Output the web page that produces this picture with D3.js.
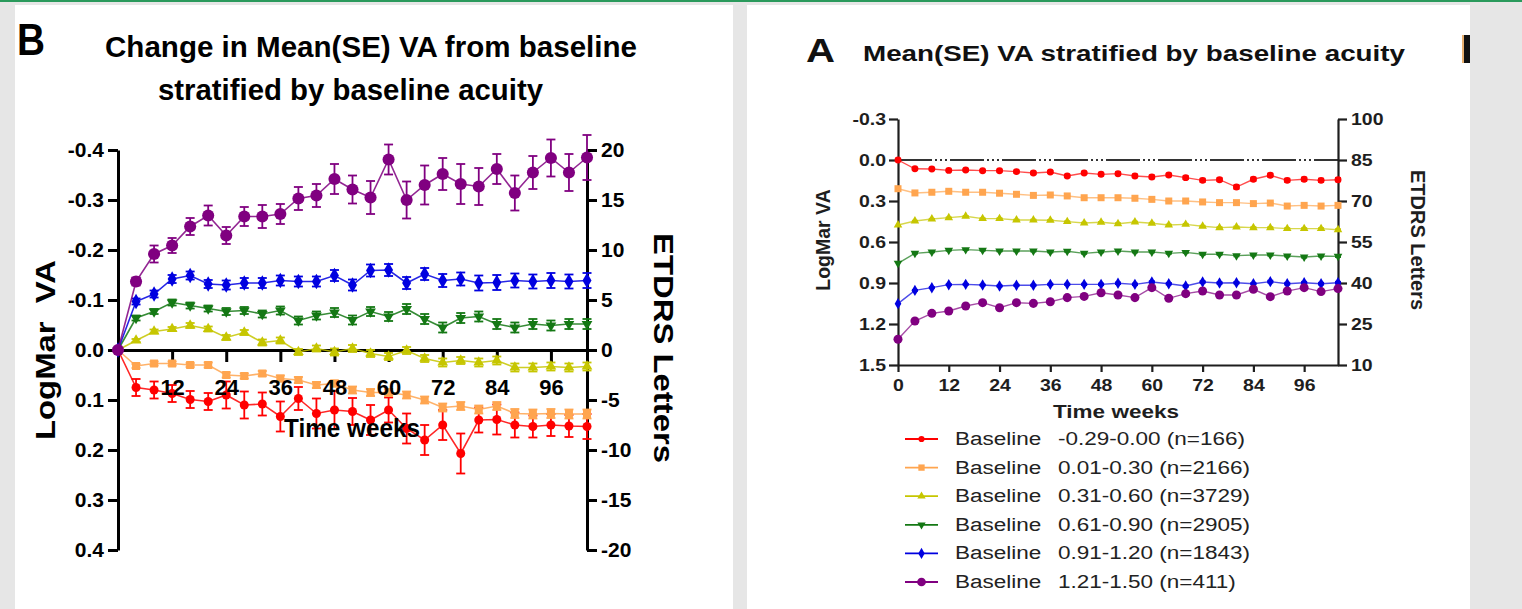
<!DOCTYPE html>
<html>
<head>
<meta charset="utf-8">
<script src="https://cdn.jsdelivr.net/npm/d3@7"></script>
<style>
  body { margin: 0; background: #e6e6e6; }
  text { font-family: "Liberation Sans", Arial, sans-serif; }
</style>
</head>
<body>
<svg id="fig" width="1522" height="609"></svg>
<script>
// visit weeks (same for both panels)
const weeks = [0, 4, 8, 12, 16, 20, 24, 28, 32, 36, 40, 44, 48, 52, 56, 60, 64, 68, 72, 76, 80, 84, 88, 92, 96, 100, 104];

// panel B: change in LogMar from baseline
const bRed    = [0, 0.075, 0.080, 0.087, 0.099, 0.103, 0.090, 0.110, 0.108, 0.133, 0.097, 0.127, 0.120, 0.123, 0.140, 0.120, 0.157, 0.180, 0.150, 0.207, 0.140, 0.139, 0.150, 0.153, 0.150, 0.152, 0.153];
const bOrange = [0, 0.032, 0.027, 0.027, 0.030, 0.030, 0.050, 0.052, 0.047, 0.057, 0.060, 0.070, 0.067, 0.080, 0.085, 0.085, 0.090, 0.100, 0.115, 0.112, 0.119, 0.112, 0.127, 0.128, 0.127, 0.128, 0.128];
const bYellow = [0, -0.019, -0.037, -0.042, -0.049, -0.042, -0.025, -0.035, -0.015, -0.019, 0.004, -0.003, 0.004, -0.003, 0.007, 0.013, 0.001, 0.017, 0.025, 0.021, 0.025, 0.021, 0.035, 0.035, 0.033, 0.035, 0.033];
const bGreen  = [0, -0.064, -0.077, -0.095, -0.089, -0.083, -0.077, -0.079, -0.072, -0.079, -0.059, -0.069, -0.075, -0.060, -0.077, -0.067, -0.082, -0.062, -0.045, -0.064, -0.067, -0.052, -0.045, -0.052, -0.049, -0.052, -0.052];
const bBlue   = [0, -0.097, -0.112, -0.142, -0.149, -0.132, -0.130, -0.134, -0.134, -0.139, -0.137, -0.137, -0.149, -0.130, -0.159, -0.160, -0.134, -0.152, -0.139, -0.142, -0.134, -0.135, -0.139, -0.137, -0.139, -0.137, -0.139];
const bPurple = [0, -0.137, -0.192, -0.209, -0.247, -0.269, -0.229, -0.267, -0.267, -0.272, -0.303, -0.309, -0.342, -0.321, -0.305, -0.381, -0.300, -0.330, -0.352, -0.332, -0.327, -0.362, -0.314, -0.355, -0.384, -0.355, -0.385];

const bSeRed    = [0, 0.017, 0.017, 0.017, 0.017, 0.017, 0.027, 0.027, 0.023, 0.030, 0.023, 0.030, 0.038, 0.027, 0.030, 0.025, 0.030, 0.030, 0.030, 0.040, 0.025, 0.030, 0.025, 0.022, 0.022, 0.022, 0.025];
const bSeOrange = [0, 0.004, 0.004, 0.004, 0.004, 0.005, 0.005, 0.005, 0.005, 0.006, 0.006, 0.006, 0.006, 0.007, 0.007, 0.007, 0.007, 0.007, 0.008, 0.008, 0.008, 0.008, 0.009, 0.009, 0.009, 0.009, 0.009];
const bSeYellow = [0, 0.003, 0.004, 0.004, 0.005, 0.005, 0.005, 0.005, 0.006, 0.006, 0.006, 0.006, 0.007, 0.007, 0.007, 0.007, 0.007, 0.007, 0.008, 0.007, 0.008, 0.008, 0.008, 0.008, 0.008, 0.008, 0.008];
const bSeGreen  = [0, 0.005, 0.005, 0.006, 0.006, 0.006, 0.007, 0.007, 0.007, 0.008, 0.008, 0.008, 0.009, 0.009, 0.009, 0.009, 0.010, 0.010, 0.010, 0.010, 0.010, 0.010, 0.010, 0.010, 0.010, 0.010, 0.010];
const bSeBlue   = [0, 0.006, 0.007, 0.008, 0.008, 0.008, 0.009, 0.010, 0.010, 0.010, 0.010, 0.010, 0.011, 0.011, 0.012, 0.012, 0.012, 0.012, 0.013, 0.013, 0.015, 0.015, 0.014, 0.014, 0.015, 0.014, 0.015];
const bSePurple = [0, 0.008, 0.017, 0.015, 0.017, 0.020, 0.017, 0.019, 0.023, 0.020, 0.023, 0.023, 0.030, 0.028, 0.033, 0.030, 0.037, 0.039, 0.032, 0.040, 0.037, 0.030, 0.035, 0.033, 0.037, 0.037, 0.045];

// panel A: mean LogMar
const aRed    = [0.000, 0.064, 0.066, 0.076, 0.073, 0.078, 0.078, 0.085, 0.095, 0.088, 0.117, 0.095, 0.105, 0.100, 0.117, 0.124, 0.110, 0.129, 0.149, 0.144, 0.198, 0.141, 0.112, 0.149, 0.141, 0.149, 0.144];
const aOrange = [0.210, 0.241, 0.236, 0.229, 0.236, 0.236, 0.243, 0.251, 0.259, 0.256, 0.263, 0.276, 0.276, 0.276, 0.280, 0.288, 0.300, 0.300, 0.307, 0.312, 0.312, 0.319, 0.315, 0.337, 0.332, 0.337, 0.332];
const aYellow = [0.476, 0.446, 0.432, 0.422, 0.412, 0.429, 0.429, 0.439, 0.439, 0.441, 0.451, 0.461, 0.456, 0.466, 0.454, 0.463, 0.476, 0.471, 0.485, 0.495, 0.490, 0.495, 0.495, 0.502, 0.502, 0.502, 0.510];
const aGreen  = [0.756, 0.683, 0.673, 0.661, 0.656, 0.661, 0.666, 0.666, 0.666, 0.673, 0.668, 0.683, 0.673, 0.666, 0.673, 0.673, 0.683, 0.676, 0.690, 0.690, 0.700, 0.695, 0.695, 0.702, 0.710, 0.702, 0.705];
const aBlue   = [1.051, 0.954, 0.934, 0.912, 0.910, 0.915, 0.922, 0.917, 0.917, 0.910, 0.910, 0.910, 0.910, 0.902, 0.910, 0.893, 0.905, 0.922, 0.893, 0.900, 0.898, 0.905, 0.890, 0.905, 0.898, 0.905, 0.898];
const aPurple = [1.312, 1.178, 1.122, 1.105, 1.068, 1.044, 1.081, 1.044, 1.049, 1.037, 1.007, 0.998, 0.971, 0.988, 1.007, 0.934, 1.012, 0.978, 0.959, 0.988, 0.988, 0.946, 1.000, 0.959, 0.934, 0.963, 0.941];

const aSeRed    = [0, 0.006, 0.006, 0.006, 0.006, 0.006, 0.007, 0.008, 0.009, 0.008, 0.009, 0.009, 0.010, 0.010, 0.010, 0.011, 0.010, 0.011, 0.012, 0.011, 0.013, 0.012, 0.012, 0.012, 0.012, 0.012, 0.012];
const aSeOrange = [0, 0.003, 0.003, 0.003, 0.003, 0.003, 0.003, 0.004, 0.004, 0.004, 0.004, 0.004, 0.004, 0.004, 0.004, 0.005, 0.004, 0.005, 0.005, 0.005, 0.005, 0.005, 0.005, 0.005, 0.005, 0.005, 0.005];
const aSeYellow = [0, 0.002, 0.002, 0.002, 0.003, 0.003, 0.003, 0.003, 0.003, 0.003, 0.003, 0.003, 0.003, 0.004, 0.004, 0.004, 0.004, 0.004, 0.004, 0.004, 0.004, 0.004, 0.004, 0.004, 0.004, 0.004, 0.004];
const aSeGreen  = [0, 0.003, 0.003, 0.003, 0.003, 0.003, 0.003, 0.003, 0.004, 0.004, 0.004, 0.004, 0.004, 0.004, 0.004, 0.004, 0.004, 0.004, 0.005, 0.004, 0.005, 0.005, 0.005, 0.005, 0.005, 0.005, 0.005];
const aSeBlue   = [0, 0.004, 0.004, 0.004, 0.004, 0.004, 0.005, 0.005, 0.005, 0.005, 0.005, 0.005, 0.006, 0.006, 0.006, 0.006, 0.006, 0.006, 0.006, 0.006, 0.006, 0.006, 0.007, 0.007, 0.007, 0.007, 0.007];
const aSePurple = [0, 0.006, 0.007, 0.008, 0.008, 0.008, 0.009, 0.009, 0.009, 0.010, 0.010, 0.011, 0.013, 0.012, 0.013, 0.012, 0.013, 0.013, 0.012, 0.013, 0.013, 0.012, 0.013, 0.013, 0.013, 0.013, 0.014];

// legend
const groupRanges = ["-0.29-0.00 (n=166)", "0.01-0.30 (n=2166)", "0.31-0.60 (n=3729)", "0.61-0.90 (n=2905)", "0.91-1.20 (n=1843)", "1.21-1.50 (n=411)"];
const colors = ["#ff0000", "#ffa54f", "#c6c600", "#147814", "#0000e0", "#800080"];

// tick labels
const bLeftTicks  = [-0.4, -0.3, -0.2, -0.1, 0.0, 0.1, 0.2, 0.3, 0.4];
const bRightTicks = [20, 15, 10, 5, 0, -5, -10, -15, -20];
const bWeekTicks  = [12, 24, 36, 48, 60, 72, 84, 96];
const aLeftTicks  = [-0.3, 0.0, 0.3, 0.6, 0.9, 1.2, 1.5];
const aRightTicks = [100, 85, 70, 55, 40, 25, 10];
const aWeekTicks  = [0, 12, 24, 36, 48, 60, 72, 84, 96];

const svg = d3.select("#fig");

// page background and panels
svg.append("rect").attr("width", 1522).attr("height", 609).attr("fill", "#e6e6e6");
svg.append("rect").attr("width", 1522).attr("height", 2).attr("fill", "#2a9a5c");
svg.append("rect").attr("x", 15).attr("y", 5).attr("width", 718).attr("height", 604).attr("fill", "#fff");
svg.append("rect").attr("x", 747).attr("y", 5).attr("width", 723).attr("height", 604).attr("fill", "#fff");

// widen text horizontally by factor k (the figure is a stretched raster)
function stretch(sel, k) {
  sel.each(function() {
    const L = this.getComputedTextLength();
    d3.select(this).attr("textLength", L * k).attr("lengthAdjust", "spacingAndGlyphs");
  });
}
function fitTo(sel, len) {
  sel.attr("textLength", len).attr("lengthAdjust", "spacingAndGlyphs");
}

const fmt1 = d => d.toFixed(1);

function symbolPath(shape, size) {
  if (shape === "down") return d3.symbol(d3.symbolTriangle, size)();
  return d3.symbol(shape, size)();
}

function drawSeries(g, x, y, means, ses, color, shape, size, capW, lineW, lineOpacity) {
  const pts = weeks.map((w, i) => ({w, m: means[i], se: ses[i]}));
  const line = d3.line().x(d => x(d.w)).y(d => y(d.m));
  g.append("path").datum(pts)
    .attr("d", line)
    .attr("fill", "none")
    .attr("stroke", color)
    .attr("stroke-width", lineW)
    .attr("stroke-opacity", lineOpacity);
  const eb = g.append("g").attr("stroke", color).attr("stroke-width", 1.8);
  pts.filter(d => d.se > 0).forEach(d => {
    const x0 = x(d.w), y1 = y(d.m - d.se), y2 = y(d.m + d.se);
    eb.append("line").attr("x1", x0).attr("x2", x0).attr("y1", y1).attr("y2", y2);
    eb.append("line").attr("x1", x0 - capW / 2).attr("x2", x0 + capW / 2).attr("y1", y1).attr("y2", y1);
    eb.append("line").attr("x1", x0 - capW / 2).attr("x2", x0 + capW / 2).attr("y1", y2).attr("y2", y2);
  });
  g.append("g").selectAll("path").data(pts).join("path")
    .attr("d", symbolPath(shape, size))
    .attr("transform", d => `translate(${x(d.w)},${y(d.m)})` + (shape === "down" ? " rotate(180)" : ""))
    .attr("fill", color);
}

function styleAxis(g, width, color, fontSize) {
  g.select(".domain").attr("stroke", color).attr("stroke-width", width);
  g.selectAll(".tick line").attr("stroke", color).attr("stroke-width", width);
  g.selectAll(".tick text").attr("fill", color).attr("font-size", fontSize)
    .attr("font-weight", "bold").attr("font-family", "Liberation Sans, Arial, sans-serif");
}

// ---------------- Panel B ----------------
{
  const x = d3.scaleLinear().domain([0, 104]).range([118, 587]);
  const y = d3.scaleLinear().domain([-0.4, 0.4]).range([150, 550]);
  const yR = d3.scaleLinear().domain([20, -20]).range([150, 550]);
  const g = svg.append("g");

  const gl = g.append("g").attr("transform", "translate(118,0)")
    .call(d3.axisLeft(y).tickValues(bLeftTicks).tickFormat(fmt1).tickSize(10).tickSizeOuter(0).tickPadding(4));
  styleAxis(gl, 3, "#000", 21);
  const gr = g.append("g").attr("transform", "translate(587,0)")
    .call(d3.axisRight(yR).tickValues(bRightTicks).tickFormat(d => String(d)).tickSize(10).tickSizeOuter(0).tickPadding(4));
  styleAxis(gr, 3, "#000", 21);
  const gx = g.append("g").attr("transform", `translate(0,${y(0)})`)
    .call(d3.axisBottom(x).tickValues(bWeekTicks).tickSize(12).tickSizeOuter(0).tickPadding(17));
  styleAxis(gx, 3, "#000", 22);
  gx.selectAll(".tick text").remove();

  const bMeans = [bRed, bOrange, bYellow, bGreen, bBlue, bPurple];
  const bSes = [bSeRed, bSeOrange, bSeYellow, bSeGreen, bSeBlue, bSePurple];
  const bShapes = [d3.symbolCircle, d3.symbolSquare, d3.symbolTriangle, "down", d3.symbolDiamond, d3.symbolCircle];
  const bSizes = [64, 64, 50, 50, 70, 115];
  const sg = g.append("g");
  bMeans.forEach((m, i) => drawSeries(sg, x, y, m, bSes[i], colors[i], bShapes[i], bSizes[i], 9, 1.6, 0.85));

  // week labels sit on top of the marks
  const gxl = g.append("g").attr("transform", `translate(0,${y(0)})`)
    .call(d3.axisBottom(x).tickValues(bWeekTicks).tickSize(12).tickSizeOuter(0).tickPadding(17));
  styleAxis(gxl, 3, "#000", 22);
  gxl.select(".domain").remove();
  gxl.selectAll(".tick line").remove();

  g.append("text").attr("x", 17).attr("y", 55).attr("font-size", 44).attr("font-weight", "bold").text("B")
    .call(fitTo, 28);
  g.append("text").attr("x", 105).attr("y", 57).attr("font-size", 29).attr("font-weight", "bold")
    .text("Change in Mean(SE) VA from baseline").call(fitTo, 532);
  g.append("text").attr("x", 158).attr("y", 100).attr("font-size", 29).attr("font-weight", "bold")
    .text("stratified by baseline acuity").call(fitTo, 385);
  g.append("text").attr("x", 284).attr("y", 437).attr("font-size", 26).attr("font-weight", "bold")
    .text("Time weeks").call(fitTo, 136);
  g.append("text").attr("transform", "translate(45,350) rotate(-90)")
    .attr("text-anchor", "middle").attr("dominant-baseline", "central")
    .attr("font-size", 28).attr("font-weight", "bold").attr("xml:space", "preserve")
    .text("LogMar  VA").call(fitTo, 180);
  g.append("text").attr("transform", "translate(663,348) rotate(90)")
    .attr("text-anchor", "middle").attr("dominant-baseline", "central")
    .attr("font-size", 28).attr("font-weight", "bold")
    .text("ETDRS Letters").call(fitTo, 230);
}

// ---------------- Panel A ----------------
{
  const sx = 1.25;
  const x = d3.scaleLinear().domain([0, 104]).range([898, 1338]);
  const y = d3.scaleLinear().domain([-0.3, 1.5]).range([119, 365]);
  const yR = d3.scaleLinear().domain([100, 10]).range([119, 365]);
  const ink = "#1e1e1e";
  const g = svg.append("g");

  // reference line at LogMar 0
  g.append("line").attr("x1", x(0)).attr("x2", x(104)).attr("y1", y(0)).attr("y2", y(0))
    .attr("stroke", "#333").attr("stroke-width", 2)
    .attr("stroke-dasharray", "34,3,2,3,2,3,2,3");

  const gl = g.append("g").attr("transform", "translate(898,0)")
    .call(d3.axisLeft(y).tickValues(aLeftTicks).tickFormat(fmt1).tickSize(9).tickSizeOuter(0).tickPadding(3));
  styleAxis(gl, 2.2, ink, 16.5);
  const gr = g.append("g").attr("transform", "translate(1338,0)")
    .call(d3.axisRight(yR).tickValues(aRightTicks).tickFormat(d => String(d)).tickSize(9).tickSizeOuter(0).tickPadding(4));
  styleAxis(gr, 2.2, ink, 16.5);
  const gx = g.append("g").attr("transform", "translate(0,365)")
    .call(d3.axisBottom(x).tickValues(aWeekTicks).tickSize(7).tickSizeOuter(0).tickPadding(7));
  styleAxis(gx, 2.2, ink, 16.5);
  [gl, gr, gx].forEach(a => a.selectAll(".tick text").call(stretch, 1.18));

  const aMeans = [aRed, aOrange, aYellow, aGreen, aBlue, aPurple];
  const aSes = [aSeRed, aSeOrange, aSeYellow, aSeGreen, aSeBlue, aSePurple];
  const aShapes = [d3.symbolCircle, d3.symbolSquare, d3.symbolTriangle, "down", d3.symbolDiamond, d3.symbolCircle];
  const aSizes = [38, 49, 32, 32, 38, 64];
  const sg = g.append("g");
  aMeans.forEach((m, i) => drawSeries(sg, x, y, m, aSes[i], colors[i], aShapes[i], aSizes[i], 6, 1.4, 0.7));

  g.append("text").attr("x", 806).attr("y", 62).attr("font-size", 33).attr("font-weight", "bold")
    .attr("fill", "#111").text("A").call(fitTo, 29);
  g.append("text").attr("x", 863).attr("y", 61).attr("font-size", 22).attr("font-weight", "bold")
    .attr("fill", "#111").text("Mean(SE) VA stratified by baseline acuity").call(fitTo, 542);
  g.append("text").attr("x", 1116).attr("y", 418).attr("text-anchor", "middle")
    .attr("font-size", 18).attr("font-weight", "bold").attr("fill", ink)
    .text("Time weeks").call(stretch, sx);
  g.append("text").attr("transform", "translate(823,240) rotate(-90)")
    .attr("text-anchor", "middle").attr("dominant-baseline", "central")
    .attr("font-size", 19.5).attr("font-weight", "bold").attr("fill", ink)
    .text("LogMar VA");
  g.append("text").attr("transform", "translate(1418,240) rotate(90)")
    .attr("text-anchor", "middle").attr("dominant-baseline", "central")
    .attr("font-size", 20).attr("font-weight", "bold").attr("fill", ink)
    .text("ETDRS Letters");

  // legend
  const legY = d3.scalePoint().domain(groupRanges).range([439, 582]);
  const legSizes = [30, 40, 30, 30, 36, 60];
  const leg = g.append("g");
  groupRanges.forEach((label, i) => {
    const ly = legY(label);
    leg.append("line").attr("x1", 905).attr("x2", 938).attr("y1", ly).attr("y2", ly)
      .attr("stroke", colors[i]).attr("stroke-width", 1.8);
    leg.append("path").attr("d", symbolPath(aShapes[i], legSizes[i]))
      .attr("transform", `translate(921.5,${ly})` + (aShapes[i] === "down" ? " rotate(180)" : ""))
      .attr("fill", colors[i]);
    leg.append("text").attr("x", 955).attr("y", ly).attr("dominant-baseline", "central")
      .attr("font-size", 18).attr("fill", "#222").text("Baseline").call(stretch, sx);
    leg.append("text").attr("x", 1058).attr("y", ly).attr("dominant-baseline", "central")
      .attr("font-size", 18).attr("fill", "#222").text(label).call(stretch, sx);
  });

  // cropped edge of the neighbouring panel letter
  g.append("rect").attr("x", 1462).attr("y", 35).attr("width", 2).attr("height", 28).attr("fill", "#e8b070");
  g.append("rect").attr("x", 1464).attr("y", 35).attr("width", 6).attr("height", 28).attr("fill", "#111");
}
</script>
</body>
</html>
